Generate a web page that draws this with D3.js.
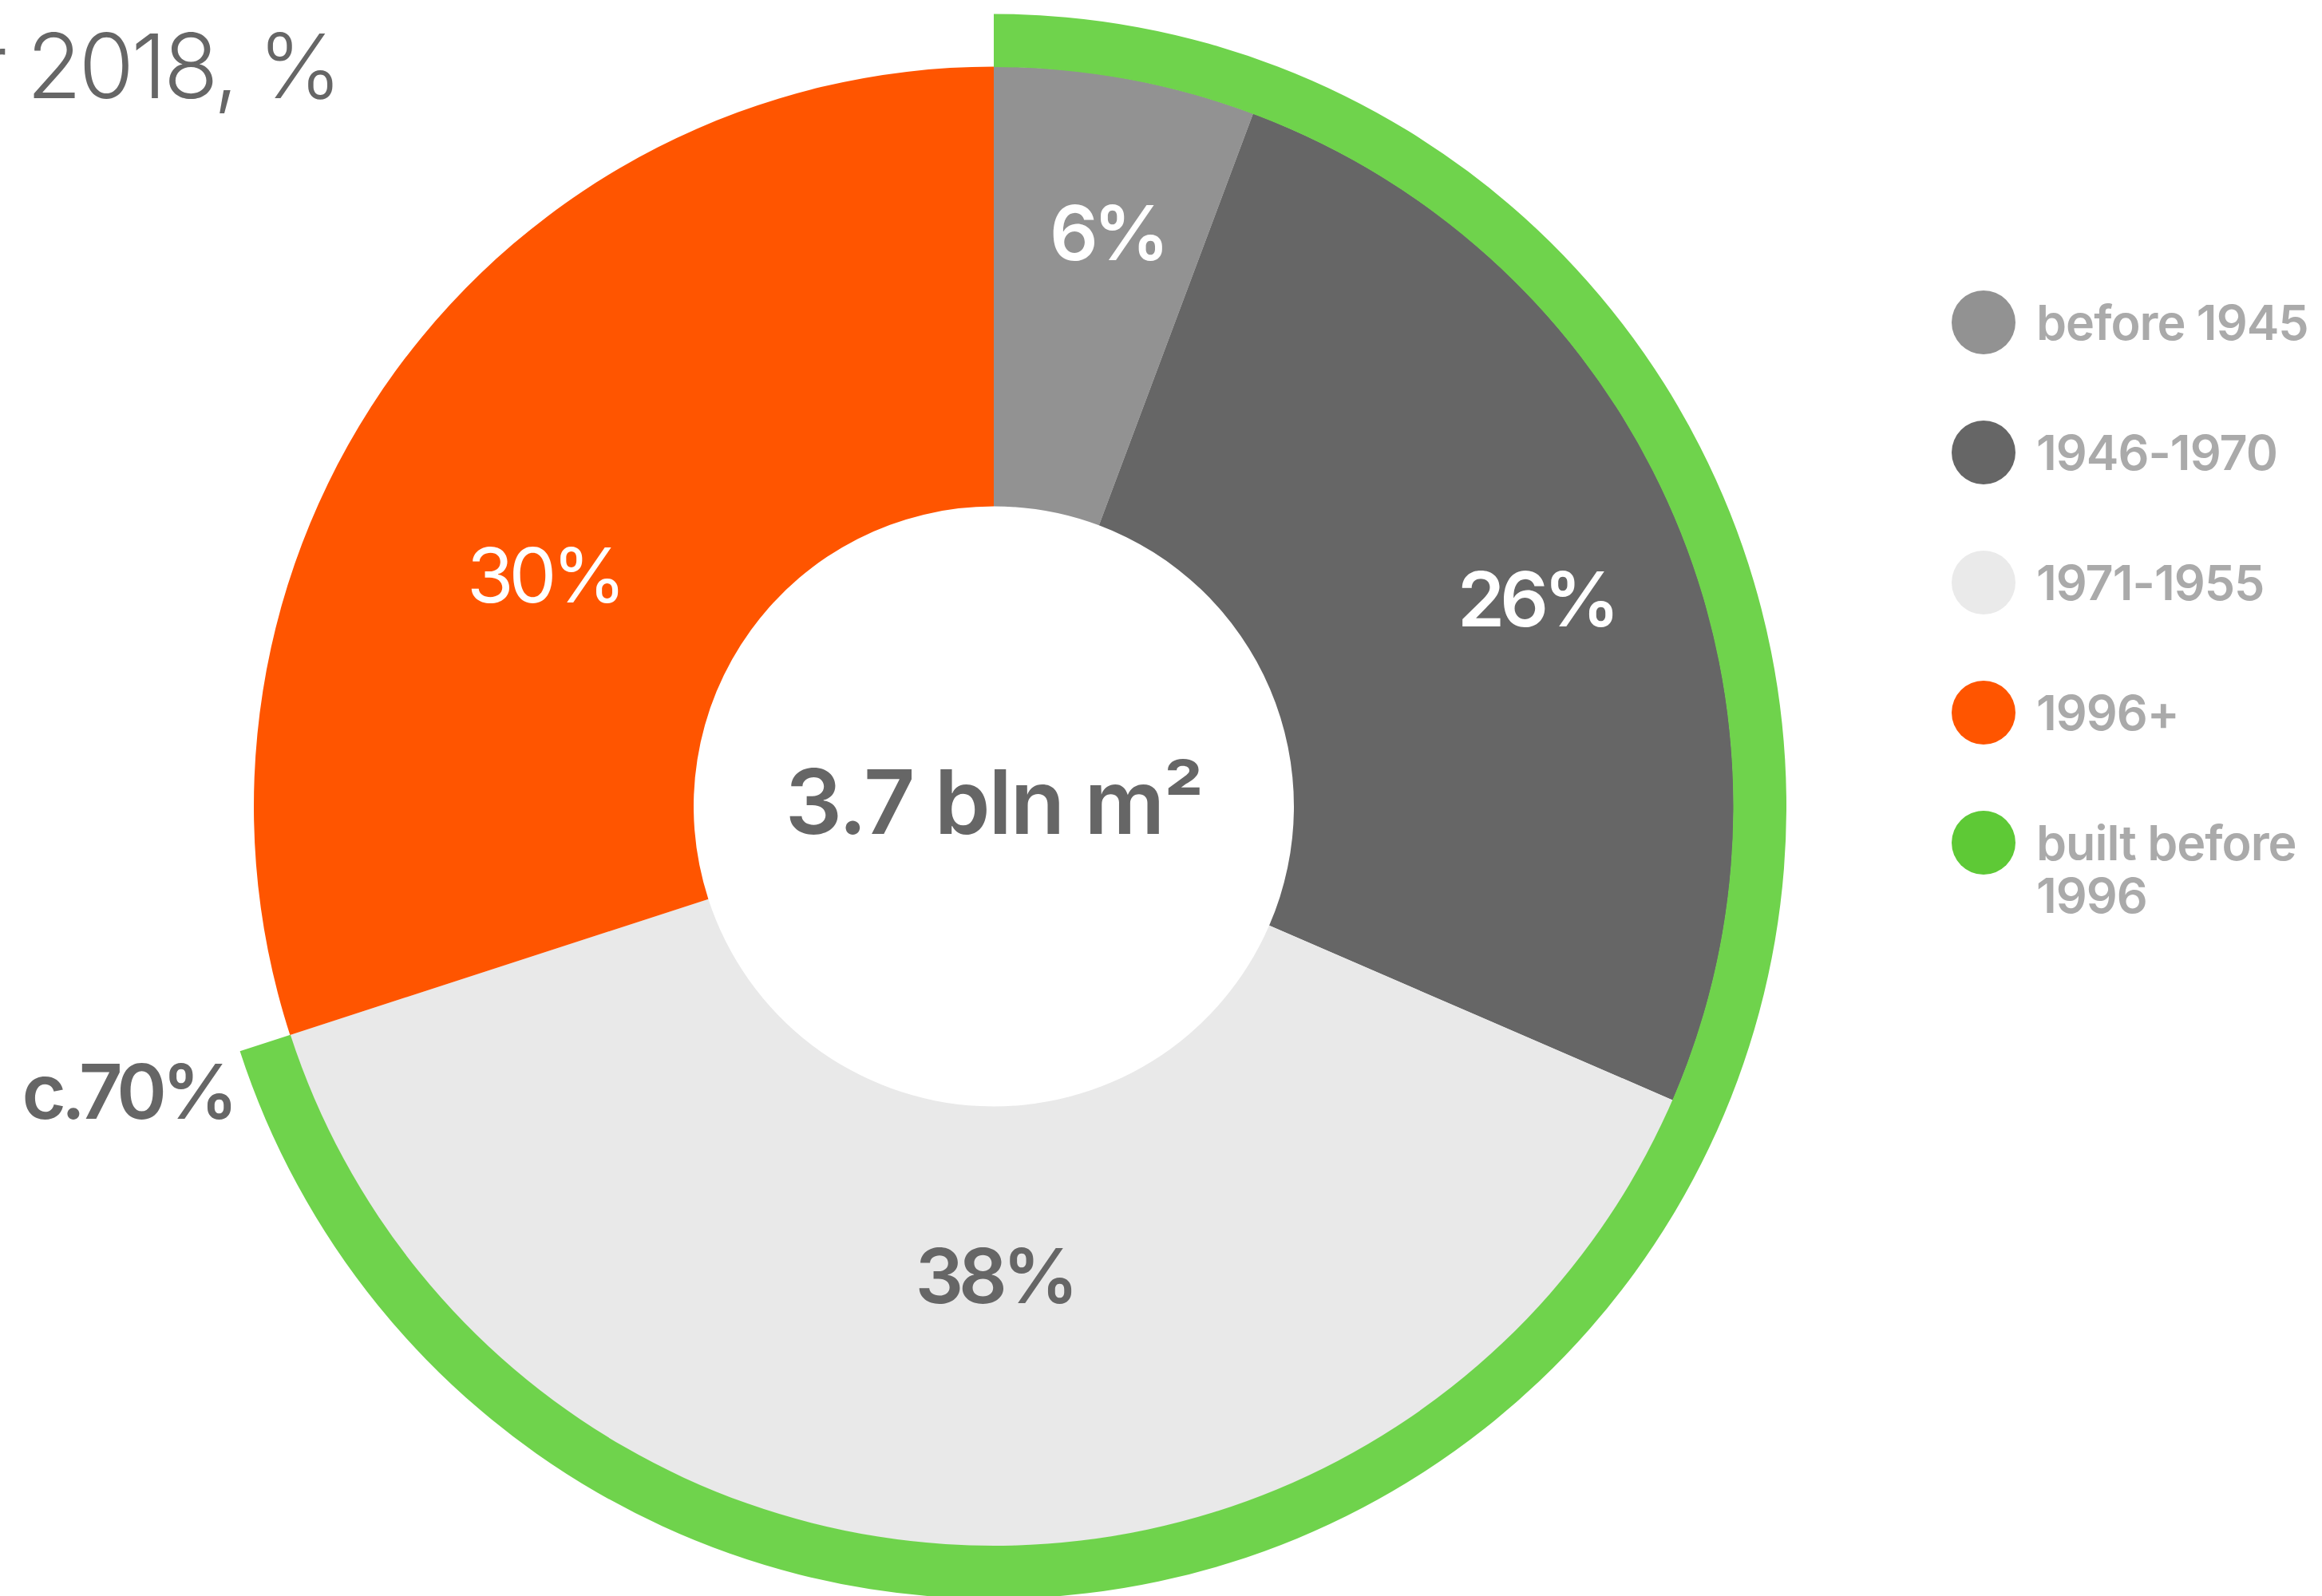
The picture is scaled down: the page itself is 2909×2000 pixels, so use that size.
<!DOCTYPE html>
<html lang="en">
<head>
<meta charset="utf-8">
<script src="https://d3js.org/d3.v7.min.js"></script>
<style type="text/css">
body {
	margin: 0;
	background: #fff;
	font-family: Inter, "Noto Sans", sans-serif;
}
</style>
</head>
<body>
<script type="text/javascript">

// canvas size
const width = 2909;
const height = 2000;

// stock by construction period, shares
const periods = ["before 1945", "1946-1970", "1971-1955", "1996+"];
const shares = [5.7, 25.8, 38.5, 30.0];
const shareLabels = ["6%", "26%", "38%", "30%"];
const totalLabel = "3.7 bln m²";
const oldStockLabel = "c.70%";
const titleText = "Office stock by year of construction, end of year 2018, %";

// legend rows (last one is the outer ring)
const legendLabels = [["before 1945"], ["1946-1970"], ["1971-1955"], ["1996+"], ["built before", "1996"]];

// colours
const periodColors = ["#929292", "#666666", "#e9e9e9", "#ff5500"];
const labelColors = ["#ffffff", "#ffffff", "#666666", "#ffffff"];
const labelWeights = [600, 600, 600, 400];
const ringColor = "#6fd34c";
const legendColors = ["#929292", "#666666", "#eaeaea", "#ff5500", "#5ec936"];

// geometry
const cx = 1245, cy = 1010.5;
const innerR = 376, outerR = 927, ringR = 993;
const labelR = 680;
// small hand nudges so labels sit where the original put them
const labelNudge = [[21, -50], [54, 6], [33, -91], [-13, 110]];

const svg = d3.select("body")
	.append("svg")
	.attr("width", width)
	.attr("height", height);

const g = svg.append("g")
	.attr("transform", `translate(${cx},${cy})`);

const pie = d3.pie()
	.sort(null)
	.value(d => d);

const arcs = pie(shares);

const arc = d3.arc()
	.innerRadius(innerR)
	.outerRadius(outerR);

const labelArc = d3.arc()
	.innerRadius(labelR)
	.outerRadius(labelR);

g.selectAll("path.slice")
	.data(arcs)
	.enter()
	.append("path")
	.attr("class", "slice")
	.attr("d", arc)
	.style("fill", (d, i) => periodColors[i]);

// outer ring: everything built before 1996
const oldShare = d3.sum(shares.slice(0, 3));
const ringArcs = pie([oldShare, 100 - oldShare]);
const ring = d3.arc()
	.innerRadius(outerR - 0.5)
	.outerRadius(ringR);

g.append("path")
	.attr("d", ring(ringArcs[0]))
	.style("fill", ringColor);

// slice labels
g.selectAll("text.share")
	.data(arcs)
	.enter()
	.append("text")
	.attr("class", "share")
	.attr("x", (d, i) => labelArc.centroid(d)[0] + labelNudge[i][0])
	.attr("y", (d, i) => labelArc.centroid(d)[1] + labelNudge[i][1])
	.attr("dy", "0.36em")
	.attr("text-anchor", "middle")
	.style("font-size", "95px")
	.style("letter-spacing", "-6px")
	.style("font-weight", (d, i) => labelWeights[i])
	.style("fill", (d, i) => labelColors[i])
	.text((d, i) => shareLabels[i]);

// total in the hole
g.append("text")
	.attr("x", 0)
	.attr("y", 34)
	.attr("text-anchor", "middle")
	.style("font-size", "112px")
	.style("letter-spacing", "-2px")
	.style("font-weight", 600)
	.style("fill", "#666")
	.text(totalLabel);

// c.70% next to the end of the ring
svg.append("text")
	.attr("x", 160)
	.attr("y", 1402)
	.attr("text-anchor", "middle")
	.style("font-size", "95px")
	.style("letter-spacing", "-6px")
	.style("font-weight", 600)
	.style("fill", "#666")
	.text(oldStockLabel);

// title, cut off at the left like the original
svg.append("text")
	.attr("x", 425)
	.attr("y", 123)
	.attr("text-anchor", "end")
	.style("font-size", "112px")
	.style("letter-spacing", "-3.5px")
	.style("font-weight", 300)
	.style("fill", "#666")
	.text(titleText);

// legend
const legend = svg.append("g")
	.attr("transform", "translate(2485,404)");

const rows = legend.selectAll("g")
	.data(legendLabels)
	.enter()
	.append("g")
	.attr("transform", (d, i) => `translate(0,${i * 163})`);

rows.append("circle")
	.attr("r", 40)
	.style("fill", (d, i) => legendColors[i]);

rows.append("text")
	.attr("x", 66)
	.attr("y", 22)
	.style("font-size", "61px")
	.style("letter-spacing", "-1px")
	.style("font-weight", 600)
	.style("fill", "#aaaaaa")
	.selectAll("tspan")
	.data(d => d)
	.enter()
	.append("tspan")
	.attr("x", 66)
	.attr("dy", (d, i) => i === 0 ? 0 : 66)
	.text(d => d);

</script>
</body>
</html>
